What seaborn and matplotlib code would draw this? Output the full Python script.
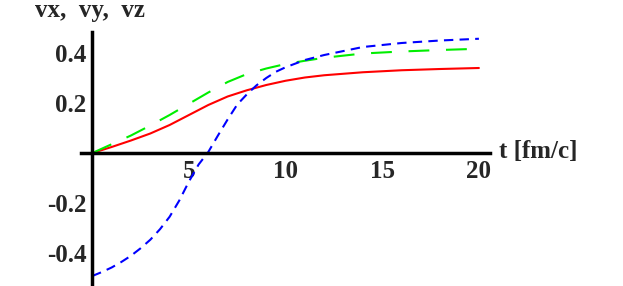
import numpy as np
import pandas as pd
import matplotlib
matplotlib.use("Agg")
import matplotlib.pyplot as plt
import seaborn as sns

# --- values ---
t_red = [0, 1, 2, 3, 4, 5, 6, 7, 8, 9, 10, 11, 12, 14, 16, 18, 20]
vx = [0, 0.024, 0.05, 0.078, 0.112, 0.152, 0.192, 0.226, 0.251, 0.272, 0.289, 0.302, 0.311,
      0.323, 0.331, 0.336, 0.34]

t_green = [0, 1, 2, 3, 4, 5, 6, 7, 8, 9, 10, 11, 12, 14, 16, 18, 20]
vy = [0, 0.035, 0.07, 0.11, 0.152, 0.197, 0.242, 0.284, 0.316, 0.338, 0.356, 0.369, 0.381,
      0.398, 0.406, 0.412, 0.417]

t_blue = [0, 0.5, 1, 1.5, 2, 2.5, 3, 3.5, 4, 4.5, 5, 5.5, 6, 6.5, 7, 7.5, 8, 8.5, 9, 9.5,
          10, 11, 12, 14, 16, 18, 20]
vz = [-0.492, -0.476, -0.458, -0.436, -0.411, -0.381, -0.347, -0.305, -0.255, -0.19,
      -0.114, -0.046, 0.004, 0.07, 0.134, 0.194, 0.235, 0.271, 0.30, 0.325,
      0.343, 0.372, 0.392, 0.424, 0.44, 0.45, 0.457]

x_ticks = [5, 10, 15, 20]
y_ticks = [0.4, 0.2, -0.2, -0.4]
y_tick_labels = ["0.4", "0.2", "-0.2", "-0.4"]

df = pd.concat([
    pd.DataFrame({"t": t_red, "v": vx, "comp": "vx"}),
    pd.DataFrame({"t": t_green, "v": vy, "comp": "vy"}),
    pd.DataFrame({"t": t_blue, "v": vz, "comp": "vz"}),
])

sns.set_style("white")
plt.rcParams["font.family"] = ["Liberation Serif", "DejaVu Serif"]
plt.rcParams["font.weight"] = "bold"

fig = plt.figure(figsize=(6.23, 2.86), dpi=100)
ax = fig.add_axes([0, 0, 1, 1])
ax.patch.set_alpha(0)

sns.lineplot(data=df, x="t", y="v", hue="comp", style="comp",
             palette={"vx": "#ff0000", "vy": "#00ee00", "vz": "#0000ff"},
             dashes={"vx": "", "vy": (10, 8), "vz": (4.5, 3)},
             linewidth=1.5, errorbar=None, legend=False, ax=ax)

# axes crossing at the origin, Mathematica style
ax.set_xlim(-92.3 / 19.33, (623 - 92.3) / 19.33)
ax.set_ylim(-133 / 250, 153 / 250)
for side in ["top", "right"]:
    ax.spines[side].set_visible(False)
ax.spines["left"].set_position(("data", 0))
ax.spines["bottom"].set_position(("data", 0))
ax.spines["left"].set_bounds(-0.53, 0.485)
ax.spines["bottom"].set_bounds(-0.57, 20.55)
for side in ["left", "bottom"]:
    ax.spines[side].set_linewidth(2.5)
    ax.spines[side].set_color("black")

ax.set_xticks(x_ticks)
ax.set_xticklabels([str(v) for v in x_ticks])
ax.set_yticks(y_ticks)
ax.set_yticklabels(y_tick_labels)
ax.tick_params(direction="in", length=3, width=0.8, labelsize=18)
ax.tick_params(axis="x", pad=5)
ax.tick_params(axis="y", pad=4)
ax.set_xlabel("")
ax.set_ylabel("")
ax.grid(False)

fig.text(35 / 623, 1 - 17 / 286, "vx,  vy,  vz", fontsize=18, fontweight="bold",
         ha="left", va="baseline")
fig.text(499 / 623, 1 - 158 / 286, "t [fm/c]", fontsize=18, fontweight="bold",
         ha="left", va="baseline")

fig.savefig("out.png", dpi=100)
